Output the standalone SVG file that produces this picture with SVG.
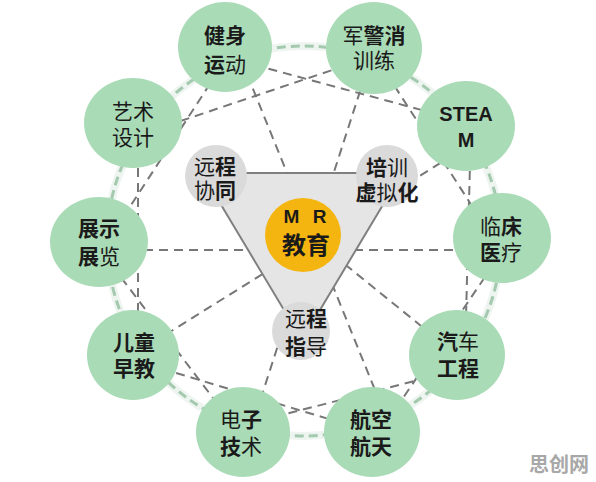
<svg xmlns="http://www.w3.org/2000/svg" width="596" height="482" viewBox="0 0 596 482">
<style>
.ring{fill:none;stroke:#a3c9ae;stroke-width:3;stroke-dasharray:9 5}
.glow{fill:none;stroke:#eef5f0;stroke-width:8}
.ch{stroke:#777;stroke-width:2;stroke-dasharray:9 6;fill:none}
.g{fill:#aadbb7}
.gr{fill:#dadada}
.t{font-family:"Noto Sans CJK SC","Noto Sans",sans-serif;font-size:21px;fill:#1a1a1a;text-anchor:middle}
.b{font-weight:bold}
.en{font-family:"Liberation Sans",Arial,sans-serif;font-weight:bold;font-size:20px;fill:#1a1a1a;text-anchor:middle}
</style>
<rect width="596" height="482" fill="#ffffff"/>
<g id="ring">
<ellipse class="glow" cx="304" cy="241" rx="197" ry="195"/>
<ellipse class="ring" cx="304" cy="241" rx="197" ry="195"/>
</g>
<g id="connectors">
<line class="ch" x1="225" y1="57" x2="466" y2="122"/>
<line class="ch" x1="370" y1="48" x2="494" y2="240"/>
<line class="ch" x1="471" y1="126" x2="465" y2="355"/>
<line class="ch" x1="510" y1="240" x2="380" y2="432"/>
<line class="ch" x1="457" y1="370" x2="243" y2="425"/>
<line class="ch" x1="133" y1="360" x2="372" y2="432"/>
<line class="ch" x1="94" y1="242" x2="239" y2="432"/>
<line class="ch" x1="138" y1="123" x2="138" y2="355"/>
<line class="ch" x1="107" y1="242" x2="234" y2="47"/>
<line class="ch" x1="374" y1="56" x2="133" y2="137"/>
<line class="ch" x1="236" y1="47" x2="392" y2="432"/>
<line class="ch" x1="374" y1="48" x2="250" y2="432"/>
<line class="ch" x1="466" y1="147" x2="133" y2="355"/>
<line class="ch" x1="99" y1="250" x2="502" y2="250"/>
<line class="ch" x1="457" y1="355" x2="300" y2="228"/>
</g>
<g id="triangle">
<polygon points="202,173 402,173 302,340" fill="#e5e5e5" stroke="#808080" stroke-width="2"/>
</g>
<g id="n-jianshen"><ellipse class="g" cx="225" cy="47" rx="47" ry="45"/>
<text class="t"><tspan x="225" y="43" class="b">健身</tspan><tspan x="225" y="72"><tspan class="b">运</tspan>动</tspan></text></g>
<g id="n-junjing"><ellipse class="g" cx="374" cy="48" rx="48" ry="46"/>
<text class="t"><tspan x="374" y="43">军<tspan class="b">警消</tspan></tspan><tspan x="374" y="68">训练</tspan></text></g>
<g id="n-steam"><ellipse class="g" cx="466" cy="126" rx="49" ry="45"/>
<text class="en"><tspan x="466" y="121">STEA</tspan><tspan x="466" y="147">M</tspan></text></g>
<g id="n-linchuang"><ellipse class="g" cx="502" cy="238" rx="49" ry="45"/>
<text class="t"><tspan x="501" y="234">临<tspan class="b">床</tspan></tspan><tspan x="501" y="260"><tspan class="b">医</tspan>疗</tspan></text></g>
<g id="n-qiche"><ellipse class="g" cx="457" cy="355" rx="48" ry="45"/>
<text class="t"><tspan x="458" y="349"><tspan class="b">汽</tspan>车</tspan><tspan x="458" y="376" class="b">工程</tspan></text></g>
<g id="n-hangkong"><ellipse class="g" cx="372" cy="432" rx="48" ry="45"/>
<text class="t b"><tspan x="371" y="427">航空</tspan><tspan x="371" y="454">航天</tspan></text></g>
<g id="n-dianzi"><ellipse class="g" cx="243" cy="432" rx="47" ry="45"/>
<text class="t"><tspan x="241" y="427">电<tspan class="b">子</tspan></tspan><tspan x="241" y="454"><tspan class="b">技</tspan>术</tspan></text></g>
<g id="n-ertong"><ellipse class="g" cx="133" cy="355" rx="46" ry="45"/>
<text class="t b"><tspan x="134" y="350">儿童</tspan><tspan x="134" y="376">早教</tspan></text></g>
<g id="n-zhanshi"><ellipse class="g" cx="99" cy="242" rx="49" ry="45"/>
<text class="t"><tspan x="99" y="236" class="b">展示</tspan><tspan x="99" y="264"><tspan class="b">展</tspan>览</tspan></text></g>
<g id="n-yishu"><ellipse class="g" cx="133" cy="123" rx="49" ry="45"/>
<text class="t"><tspan x="133" y="119">艺术</tspan><tspan x="133" y="145">设计</tspan></text></g>
<g id="n-xietong"><circle class="gr" cx="216" cy="176" r="31"/>
<text class="t"><tspan x="215" y="174">远<tspan class="b">程</tspan></tspan><tspan x="215" y="198">协<tspan class="b">同</tspan></tspan></text></g>
<g id="n-peixun"><circle class="gr" cx="387" cy="176" r="31"/>
<text class="t"><tspan x="387" y="175"><tspan class="b">培</tspan>训</tspan><tspan x="387" y="200"><tspan class="b">虚</tspan>拟<tspan class="b">化</tspan></tspan></text></g>
<g id="n-zhidao"><circle class="gr" cx="301" cy="331" r="29"/>
<text class="t"><tspan x="306" y="326">远<tspan class="b">程</tspan></tspan><tspan x="306" y="354"><tspan class="b">指</tspan>导</tspan></text></g>
<g id="n-mr"><ellipse cx="303" cy="235" rx="38" ry="37" fill="#f5b510"/>
<text class="t b"><tspan x="307" y="223" style="font-family:'Liberation Sans',Arial,sans-serif;font-size:19px;letter-spacing:4px">M R</tspan><tspan x="306" y="254" style="font-size:24px">教育</tspan></text></g>
<text x="559" y="472" style="font-family:'Noto Sans CJK SC',sans-serif;font-size:20px;font-weight:bold;fill:#a8a8a8;text-anchor:middle">思创网</text>
</svg>
